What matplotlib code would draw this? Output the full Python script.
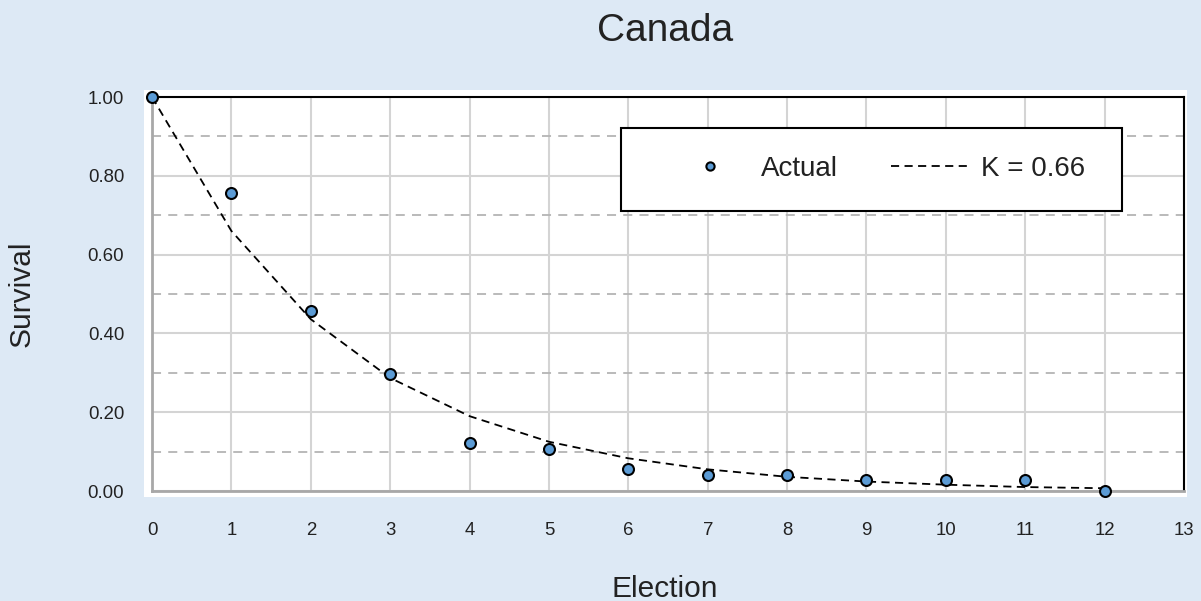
import numpy as np
import matplotlib
matplotlib.use("Agg")
import matplotlib.pyplot as plt
from matplotlib.patches import Rectangle

plt.rcParams["font.family"] = ["Liberation Sans", "DejaVu Sans"]

election = [0, 1, 2, 3, 4, 5, 6, 7, 8, 9, 10, 11, 12]
actual = [1.00, 0.756, 0.457, 0.297, 0.122, 0.107, 0.056, 0.041, 0.041, 0.028, 0.028, 0.028, 0.0]
fit = [1.00, 0.66, 0.436, 0.287, 0.190, 0.125, 0.083, 0.055, 0.036, 0.024, 0.016, 0.010, 0.007]
fit_label = "K = 0.66"
title = "Canada"

bg = "#dde9f5"
fig = plt.figure(figsize=(12.01, 6.01), dpi=100, facecolor=bg)
W, H = 1201, 601

# white plot panel behind the axes
fig.patches.append(Rectangle((144 / W, 1 - 497 / H), (1187 - 144) / W, (497 - 90) / H,
                             transform=fig.transFigure, facecolor="white", edgecolor="none", zorder=-5))

ax = fig.add_axes([152 / W, 1 - 491 / H, (1184 - 152) / W, (491 - 97) / H])
ax.set_zorder(2)
ax.set_facecolor("white")
ax.set_xlim(0, 13)
ax.set_ylim(0, 1.0)
ax.set_xticks(range(0, 14))
ax.set_yticks(np.arange(0, 1.01, 0.2))
ax.set_yticks(np.arange(0.1, 1.0, 0.2), minor=True)
ax.yaxis.set_major_formatter(matplotlib.ticker.FormatStrFormatter("%.2f"))
ax.tick_params(which="both", length=0, labelsize=13.4, labelcolor="#222222")
ax.tick_params(axis="x", pad=22.5)
ax.tick_params(axis="y", pad=20)

ax.grid(which="major", axis="both", color="#d4d4d4", linewidth=1.5, zorder=0)
ax.grid(which="minor", axis="y", color="#b4b4b4", linewidth=1.3, linestyle=(0, (5, 4)), zorder=0)
ax.set_axisbelow(True)

for s in ["top", "right"]:
    ax.spines[s].set_color("black")
    ax.spines[s].set_linewidth(1.5)
for s in ["left", "bottom"]:
    ax.spines[s].set_color("#a8a8a8")
    ax.spines[s].set_linewidth(2)

line_fit, = ax.plot(election, fit, color="black", linestyle=(0, (4.5, 3)), linewidth=1.3,
                    label=fit_label, zorder=3, clip_on=False)
pts, = ax.plot(election, actual, linestyle="none", marker="o", markersize=7.9,
               markerfacecolor="#5b9bd5", markeredgecolor="black", markeredgewidth=1.5,
               label="Actual", zorder=4, clip_on=False)

# legend frame
ax.add_patch(Rectangle(((621 - 152) / 1032, (491 - 211) / 394), (1122 - 621) / 1032, (211 - 128) / 394,
                       transform=ax.transAxes, facecolor="white", edgecolor="black", linewidth=1.5, zorder=5))
leg = ax.legend(handles=[pts, line_fit], loc="center", bbox_to_anchor=((878 - 152) / 1032, (491 - 169) / 394),
                ncol=2, frameon=False, fontsize=20, handlelength=2.77, handletextpad=0.47, columnspacing=1.9,
                markerscale=0.75, borderpad=0, borderaxespad=0, labelcolor="#222222")
leg.set_zorder(6)

fig.text(665 / W, 1 - 41 / H, title, ha="center", va="baseline", fontsize=28, color="#222222")
fig.text(665 / W, 1 - 597 / H, "Election", ha="center", va="baseline", fontsize=21.5, color="#222222")
fig.text(22 / W, 1 - 294 / H, "Survival", ha="center", va="center", rotation=90, fontsize=21.5,
         color="#222222")

fig.savefig("out.png", dpi=100, facecolor=bg)
